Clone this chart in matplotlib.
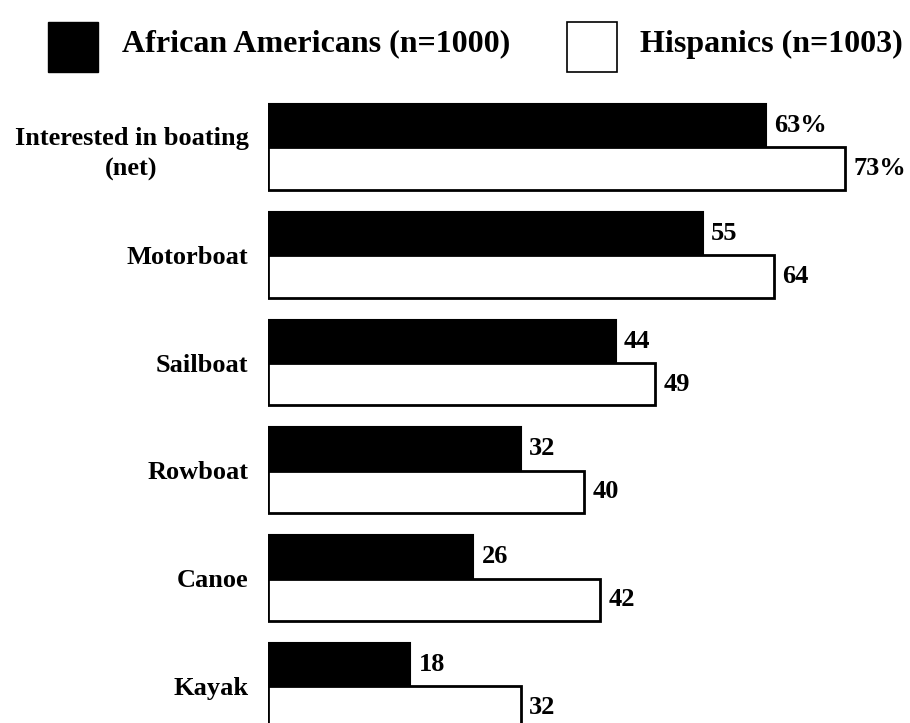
import matplotlib
matplotlib.use("Agg")
import matplotlib.pyplot as plt
from matplotlib.patches import Rectangle

categories = ["Interested in boating\n(net)", "Motorboat", "Sailboat", "Rowboat", "Canoe", "Kayak"]
african_americans = [63, 55, 44, 32, 26, 18]
hispanics = [73, 64, 49, 40, 42, 32]
aa_labels = ["63%", "55", "44", "32", "26", "18"]
hisp_labels = ["73%", "64", "49", "40", "42", "32"]
legend_names = ["African Americans (n=1000)", "Hispanics (n=1003)"]

plt.rcParams['font.family'] = ['Liberation Serif', 'DejaVu Serif']
plt.rcParams['font.weight'] = 'bold'

W, H = 910, 723
fig = plt.figure(figsize=(W / 100, H / 100), dpi=100)

ax = fig.add_axes([268 / W, 0, 640 / W, 1])
ax.set_xlim(0, 81)
ax.set_ylim(5.343, -1.364)

ypos = list(range(len(categories)))
bh = 0.4
ax.barh([y - bh / 2 for y in ypos], african_americans, height=bh, color='black',
        edgecolor='black', linewidth=1.5)
ax.barh([y + bh / 2 for y in ypos], hispanics, height=bh * 0.98, color='white',
        edgecolor='black', linewidth=2)

for y, v, t in zip(ypos, african_americans, aa_labels):
    ax.annotate(t, (v, y - bh / 2), xytext=(6, 0), textcoords='offset points',
                va='center', ha='left', fontsize=19, fontweight='bold')
for y, v, t in zip(ypos, hispanics, hisp_labels):
    ax.annotate(t, (v, y + bh / 2), xytext=(6, 0), textcoords='offset points',
                va='center', ha='left', fontsize=19, fontweight='bold')

ax.set_yticks(ypos)
ax.set_yticklabels(categories, fontsize=19, fontweight='bold', multialignment='center',
                   linespacing=1.45)
ax.tick_params(axis='y', length=0, pad=14)
ax.tick_params(axis='x', length=0, labelbottom=False)
for s in ax.spines.values():
    s.set_visible(False)

# legend
fig.patches.append(Rectangle((48 / W, 1 - 72 / H), 50 / W, 50 / H, transform=fig.transFigure,
                             facecolor='black', edgecolor='black'))
fig.patches.append(Rectangle((567 / W, 1 - 72 / H), 50 / W, 50 / H, transform=fig.transFigure,
                             facecolor='white', edgecolor='black', linewidth=1.2))
fig.text(122 / W, 1 - 44 / H, legend_names[0], fontsize=23, fontweight='bold', va='center', ha='left')
fig.text(640 / W, 1 - 44 / H, legend_names[1], fontsize=23, fontweight='bold', va='center', ha='left')

fig.savefig("out.png", dpi=100)
